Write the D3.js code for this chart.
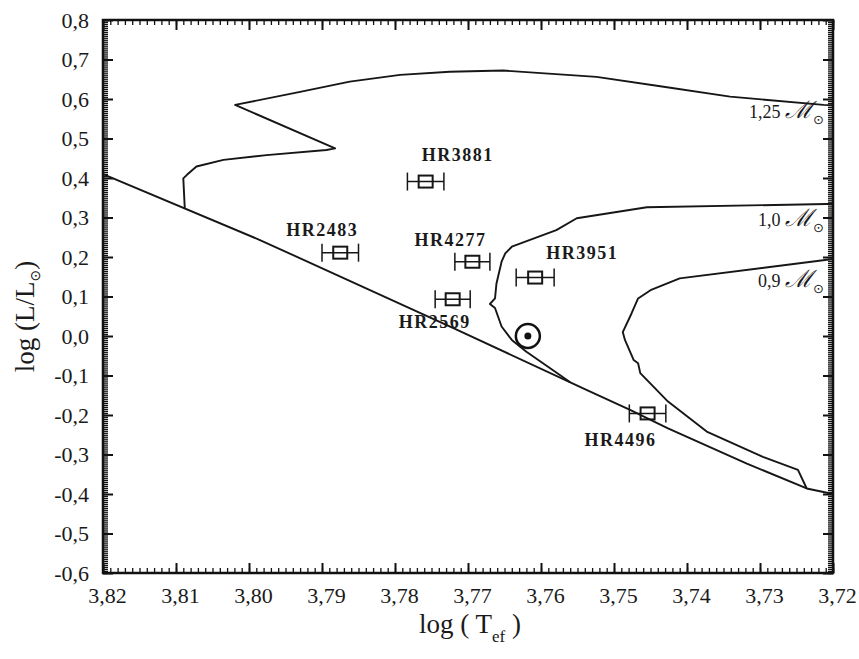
<!DOCTYPE html>
<html>
<head>
<meta charset="utf-8">
<script src="https://cdn.jsdelivr.net/npm/d3@7"></script>
<style>
  body { margin: 0; background: #fff; }
  svg { display: block; }
  text { font-family: "Liberation Serif", "Times New Roman", serif; fill: #1a1a1a; }
</style>
</head>
<body>
<svg id="chart" width="859" height="659"></svg>
<script>
// ---- data ----
const xTicks = [3.82, 3.81, 3.80, 3.79, 3.78, 3.77, 3.76, 3.75, 3.74, 3.73, 3.72]
const yTicks = [-0.6, -0.5, -0.4, -0.3, -0.2, -0.1, 0.0, 0.1, 0.2, 0.3, 0.4, 0.5, 0.6, 0.7, 0.8]

// ZAMS and evolutionary tracks, [logTeff, logL]
const zams = [[3.82, 0.41], [3.7985, 0.243], [3.772, 0.02], [3.7537, -0.137], [3.7478, -0.187],
  [3.7426, -0.234], [3.7318, -0.323], [3.7236, -0.386], [3.72, -0.40]]

const track125 = [[3.8088, 0.324], [3.809, 0.399], [3.8085, 0.408], [3.8072, 0.429], [3.8035, 0.446],
  [3.7976, 0.458], [3.7894, 0.471], [3.7882, 0.475], [3.8019, 0.585], [3.793, 0.618], [3.7862, 0.644],
  [3.7793, 0.661], [3.7725, 0.669], [3.7652, 0.672], [3.7524, 0.656], [3.7432, 0.631], [3.7341, 0.606],
  [3.7213, 0.585], [3.72, 0.584]]

const track10 = [[3.756, -0.117], [3.7584, -0.086], [3.762, -0.040], [3.764, -0.010], [3.7654, 0.024],
  [3.7663, 0.071], [3.767, 0.081], [3.7663, 0.095], [3.7661, 0.133], [3.7654, 0.188], [3.7649, 0.209],
  [3.764, 0.226], [3.7579, 0.268], [3.7551, 0.298], [3.7455, 0.326], [3.7209, 0.334], [3.72, 0.334]]

const track09 = [[3.7236, -0.386], [3.7248, -0.339], [3.7296, -0.306], [3.7373, -0.242], [3.7426, -0.166],
  [3.7464, -0.094], [3.7467, -0.069], [3.7473, -0.061], [3.7485, -0.010], [3.7488, 0.010], [3.7476, 0.057],
  [3.7467, 0.095], [3.745, 0.116], [3.741, 0.146], [3.72, 0.195]]

const trackMass = ['1,25', '1,0', '0,9']

// stars
const starNames = ['HR2483', 'HR3881', 'HR4277', 'HR2569', 'HR3951', 'HR4496']
const starLogT = [3.7875, 3.7758, 3.7694, 3.7721, 3.7608, 3.7454]
const starLogL = [0.211, 0.391, 0.188, 0.093, 0.148, -0.196]
const starErrT = [0.0025, 0.0025, 0.0024, 0.0024, 0.0026, 0.0025]

const sun = [3.7618, 0.0]

// ---- drawing ----
const svg = d3.select('#chart')
const serif = '"Liberation Serif", "Times New Roman", serif'

const mLeft = 103, mRight = 833, mTop = 20, mBottom = 573

const x = d3.scaleLinear().domain([3.82, 3.72]).range([mLeft, mRight])
const y = d3.scaleLinear().domain([-0.6, 0.8]).range([mBottom, mTop])

const comma = f => v => d3.format(f)(v).replace('.', ',').replace('−', '-')

const xMinor = d3.range(0, 101).map(i => 3.82 - i * 0.001)
const yMinor = d3.range(0, 281).map(i => -0.6 + i * 0.005)

function axis (gen, scale, pos, major, minor, labels, fmt) {
    const gMinor = svg.append('g').attr('transform', pos)
        .call(gen(scale).tickValues(minor).tickSize(-5).tickFormat(''))
    const gMajor = svg.append('g').attr('transform', pos)
        .call(gen(scale).tickValues(major).tickSize(-10).tickPadding(labels ? 14 : 0)
            .tickFormat(labels ? fmt : ''))
        .attr('font-family', serif)
        .attr('font-size', 22)
    gMinor.selectAll('.tick line').attr('stroke', '#111').attr('stroke-width', 1.3)
    gMajor.selectAll('.tick line').attr('stroke', '#111').attr('stroke-width', 2)
    gMajor.selectAll('.tick text').attr('fill', '#1a1a1a')
    svg.selectAll('.domain').remove()
    return gMajor
}

const gx = axis(d3.axisBottom, x, `translate(0,${mBottom})`, xTicks, xMinor, true, comma('.2f'))
gx.selectAll('.tick text').attr('dx', 4)
axis(d3.axisTop, x, `translate(0,${mTop})`, xTicks, xMinor, false)
axis(d3.axisLeft, y, `translate(${mLeft},0)`, yTicks, yMinor, true, comma('.1f'))
axis(d3.axisRight, y, `translate(${mRight},0)`, yTicks, yMinor, false)

svg.append('rect')
    .attr('x', mLeft).attr('y', mTop)
    .attr('width', mRight - mLeft).attr('height', mBottom - mTop)
    .attr('fill', 'none').attr('stroke', '#111').attr('stroke-width', 2.5)

// tracks
const line = d3.line().x(d => x(d[0])).y(d => y(d[1]))
const tracks = [zams, track125, track10, track09]
svg.append('g').selectAll('path').data(tracks).enter()
    .append('path')
    .attr('d', line)
    .attr('fill', 'none')
    .attr('stroke', '#161616')
    .attr('stroke-width', 1.9)
    .attr('stroke-linejoin', 'round')

// mass labels at the right-hand end of each track
const massEnds = [track125, track10, track09].map(t => t[t.length - 1])
const massDy = [13, 22, 28]
massEnds.forEach((p, i) => {
    const t = svg.append('text')
        .attr('x', mRight - 9).attr('y', y(p[1]) + massDy[i])
        .attr('text-anchor', 'end')
        .attr('font-size', 18)
    t.append('tspan').text(trackMass[i] + ' ')
    t.append('tspan').text('ℳ').attr('font-size', 24).attr('font-style', 'italic')
        .style('font-family', '"DejaVu Serif", serif')
    t.append('tspan').text('⊙').attr('font-size', 13).attr('dy', 6)
        .style('font-family', '"DejaVu Sans", sans-serif')
})

// stars with error bars
const stars = starNames.map((n, i) => ({ name: n, t: starLogT[i], l: starLogL[i], e: starErrT[i] }))
const labelOffset = {
    HR2483: [-18, -17], HR3881: [32, -21], HR4277: [-22, -16],
    HR2569: [-18, 29], HR3951: [47, -19], HR4496: [-27, 33]
}

const gs = svg.append('g').selectAll('g').data(stars).enter().append('g')

gs.append('line')
    .attr('x1', d => x(d.t - d.e)).attr('x2', d => x(d.t + d.e))
    .attr('y1', d => y(d.l)).attr('y2', d => y(d.l))
    .attr('stroke', '#161616').attr('stroke-width', 1.5)

gs.selectAll('.cap').data(d => [[d.t - d.e, d.l], [d.t + d.e, d.l]]).enter()
    .append('line')
    .attr('x1', d => x(d[0])).attr('x2', d => x(d[0]))
    .attr('y1', d => y(d[1]) - 9).attr('y2', d => y(d[1]) + 9)
    .attr('stroke', '#161616').attr('stroke-width', 1.5)

gs.append('rect')
    .attr('x', d => x(d.t) - 7).attr('y', d => y(d.l) - 6)
    .attr('width', 14).attr('height', 12)
    .attr('fill', 'none').attr('stroke', '#161616').attr('stroke-width', 2)

gs.append('text')
    .attr('x', d => x(d.t) + labelOffset[d.name][0])
    .attr('y', d => y(d.l) + labelOffset[d.name][1])
    .attr('text-anchor', 'middle')
    .attr('font-size', 18).attr('font-weight', 'bold')
    .attr('letter-spacing', 1.5)
    .text(d => d.name)

// the Sun
svg.append('circle').attr('cx', x(sun[0])).attr('cy', y(sun[1])).attr('r', 12)
    .attr('fill', 'none').attr('stroke', '#111').attr('stroke-width', 2.5)
svg.append('circle').attr('cx', x(sun[0])).attr('cy', y(sun[1])).attr('r', 3.5).attr('fill', '#111')

// axis titles
const xt = svg.append('text').attr('x', 470).attr('y', 633)
    .attr('text-anchor', 'middle').attr('font-size', 27)
xt.append('tspan').text('log ( T')
xt.append('tspan').text('ef').attr('font-size', 17).attr('dy', 9)
xt.append('tspan').text(' )').attr('dy', -9)

const yt = svg.append('text')
    .attr('transform', `translate(34,${(mTop + mBottom) / 2 + 20}) rotate(-90)`)
    .attr('text-anchor', 'middle').attr('font-size', 27)
yt.append('tspan').text('log (L/L')
yt.append('tspan').text('⊙').attr('font-size', 14).attr('dy', 6)
    .style('font-family', '"DejaVu Sans", sans-serif')
yt.append('tspan').text(')').attr('dy', -6)
</script>
</body>
</html>
